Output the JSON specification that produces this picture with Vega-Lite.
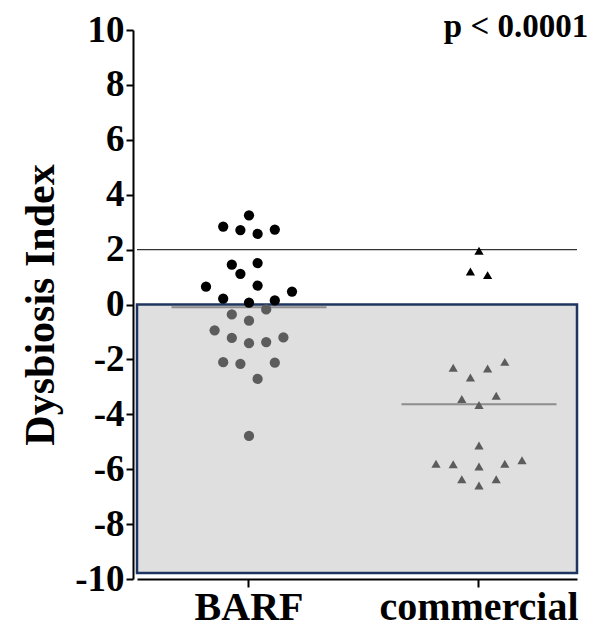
{
  "$schema": "https://vega.github.io/schema/vega-lite/v6.json",
  "width": 440,
  "height": 549,
  "autosize": {"type": "none"},
  "padding": {"left": 137, "top": 30, "right": 24, "bottom": 59},
  "background": "white",
  "config": {"view": {"stroke": null}},
  "datasets": {
    "points": [
      {"group": "BARF", "value": 3.25, "col": 0},
      {"group": "BARF", "value": 2.84, "col": -3},
      {"group": "BARF", "value": 2.71, "col": -1},
      {"group": "BARF", "value": 2.57, "col": 1},
      {"group": "BARF", "value": 2.73, "col": 3},
      {"group": "BARF", "value": 1.45, "col": -2},
      {"group": "BARF", "value": 1.51, "col": 1},
      {"group": "BARF", "value": 1.12, "col": -1},
      {"group": "BARF", "value": 0.65, "col": -5},
      {"group": "BARF", "value": 0.69, "col": 1},
      {"group": "BARF", "value": 0.47, "col": 5},
      {"group": "BARF", "value": 0.21, "col": -3},
      {"group": "BARF", "value": 0.07, "col": 0},
      {"group": "BARF", "value": 0.15, "col": 3},
      {"group": "BARF", "value": -0.18, "col": 2},
      {"group": "BARF", "value": -0.36, "col": -2},
      {"group": "BARF", "value": -0.59, "col": 0},
      {"group": "BARF", "value": -0.94, "col": -4},
      {"group": "BARF", "value": -1.22, "col": -2},
      {"group": "BARF", "value": -1.41, "col": 0},
      {"group": "BARF", "value": -1.37, "col": 2},
      {"group": "BARF", "value": -1.2, "col": 4},
      {"group": "BARF", "value": -2.1, "col": -3},
      {"group": "BARF", "value": -2.16, "col": -1},
      {"group": "BARF", "value": -2.12, "col": 3},
      {"group": "BARF", "value": -2.71, "col": 1},
      {"group": "BARF", "value": -4.79, "col": 0},
      {"group": "commercial", "value": 1.96, "col": 0},
      {"group": "commercial", "value": 1.2, "col": -1},
      {"group": "commercial", "value": 1.07, "col": 1},
      {"group": "commercial", "value": -2.3, "col": -3},
      {"group": "commercial", "value": -2.66, "col": -1},
      {"group": "commercial", "value": -2.33, "col": 1},
      {"group": "commercial", "value": -2.09, "col": 3},
      {"group": "commercial", "value": -3.44, "col": -2},
      {"group": "commercial", "value": -3.32, "col": 2},
      {"group": "commercial", "value": -3.66, "col": 0},
      {"group": "commercial", "value": -5.14, "col": 0},
      {"group": "commercial", "value": -5.8, "col": -5},
      {"group": "commercial", "value": -5.82, "col": -3},
      {"group": "commercial", "value": -5.9, "col": 0},
      {"group": "commercial", "value": -5.8, "col": 3},
      {"group": "commercial", "value": -5.67, "col": 5},
      {"group": "commercial", "value": -6.37, "col": -2},
      {"group": "commercial", "value": -6.59, "col": 0},
      {"group": "commercial", "value": -6.37, "col": 2}
    ],
    "medians": [
      {"group": "BARF", "median": -0.1},
      {"group": "commercial", "median": -3.63}
    ],
    "annotation": [
      {"group": "commercial", "label": "p < 0.0001"}
    ]
  },
  "data": {"name": "points"},
  "layer": [
    {
      "data": {"values": [{}]},
      "mark": {"type": "rect", "fill": "#dfdfdf", "stroke": "#1e3560", "strokeWidth": 2.5},
      "encoding": {
        "y": {"datum": 0, "type": "quantitative", "scale": {"domain": [-10, 10], "nice": false}},
        "y2": {"datum": -9.78}
      }
    },
    {
      "data": {"values": [{}]},
      "mark": {"type": "rule", "color": "#333333", "strokeWidth": 1.3},
      "encoding": {"y": {"datum": 2, "type": "quantitative"}}
    },
    {
      "data": {"name": "medians"},
      "mark": {"type": "tick", "color": "#6a6a6a", "thickness": 2, "size": 155},
      "encoding": {
        "x": {"field": "group", "type": "nominal"},
        "xOffset": {"datum": 0, "type": "quantitative"},
        "y": {"field": "median", "type": "quantitative"}
      }
    },
    {
      "data": {"name": "annotation"},
      "mark": {
        "type": "text",
        "font": "Liberation Serif",
        "fontSize": 33,
        "fontWeight": "bold",
        "color": "black",
        "align": "center",
        "baseline": "alphabetic",
        "dx": 44,
        "dy": 7
      },
      "encoding": {
        "x": {"field": "group", "type": "nominal"},
        "y": {"datum": 10, "type": "quantitative"},
        "text": {"field": "label"}
      }
    },
    {
      "mark": {"type": "point", "filled": true, "opacity": 1, "strokeWidth": 0},
      "encoding": {
        "x": {
          "field": "group",
          "type": "nominal",
          "sort": ["BARF", "commercial"],
          "scale": {"domain": ["BARF", "commercial"], "paddingInner": 0.087, "paddingOuter": 0},
          "axis": {
            "title": null,
            "bandPosition": 0.533,
            "domainColor": "black",
            "domainWidth": 2,
            "tickColor": "black",
            "tickWidth": 2,
            "tickSize": 8,
            "labelFont": "Liberation Serif",
            "labelFontSize": 40,
            "labelFontWeight": "bold",
            "labelColor": "black",
            "labelPadding": 20,
            "labelOffset": 7,
            "labelAngle": 0,
            "labelAlign": "center",
            "labelLimit": 400,
            "grid": false
          }
        },
        "xOffset": {
          "field": "col",
          "type": "quantitative",
          "scale": {"domain": [-6, 6], "range": [60.4, 163.6]}
        },
        "y": {
          "field": "value",
          "type": "quantitative",
          "scale": {"domain": [-10, 10], "nice": false},
          "axis": {
            "title": "Dysbiosis Index",
            "titleFont": "Liberation Serif",
            "titleFontSize": 42,
            "titleFontWeight": "bold",
            "titleColor": "black",
            "titlePadding": 12,
            "values": [-10, -8, -6, -4, -2, 0, 2, 4, 6, 8, 10],
            "labelExpr": "replace(datum.label, '\u2212', '-')",
            "offset": 4,
            "domainColor": "black",
            "domainWidth": 2,
            "tickColor": "black",
            "tickWidth": 2,
            "tickSize": 7,
            "labelFont": "Liberation Serif",
            "labelFontSize": 37,
            "labelFontWeight": "bold",
            "labelColor": "black",
            "labelPadding": 2,
            "grid": false
          }
        },
        "shape": {
          "field": "group",
          "type": "nominal",
          "scale": {"domain": ["BARF", "commercial"], "range": ["circle", "triangle-up"]},
          "legend": null
        },
        "size": {
          "field": "group",
          "type": "nominal",
          "scale": {"domain": ["BARF", "commercial"], "range": [105, 85]},
          "legend": null
        },
        "color": {
          "condition": {"test": "datum.value > 0", "value": "#000000"},
          "value": "#5c5c5c"
        }
      }
    }
  ]
}
